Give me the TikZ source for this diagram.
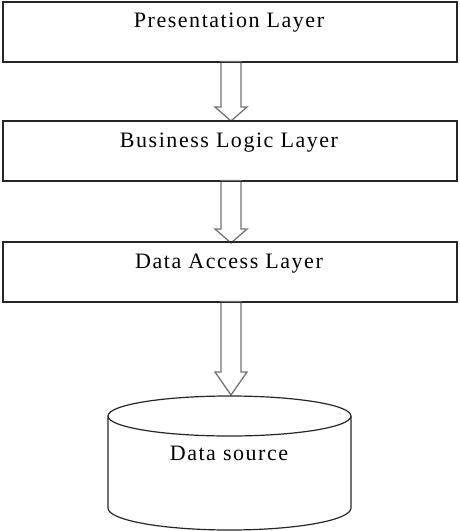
\documentclass[tikz,border=0pt]{standalone}
\usepackage{fontspec}
\setmainfont{Liberation Serif}[LetterSpace=7]
\begin{document}
\begin{tikzpicture}[x=1pt,y=-1pt,
  layerbox/.style={draw=black!85,line width=1.2pt,minimum width=454pt,minimum height=59pt,inner sep=0pt},
  lbl/.style={font=\fontsize{22}{25}\selectfont,inner sep=0pt,anchor=base},
  hollowarrow/.style={draw=black!55,line width=1.3pt,fill=white,line join=miter}]
\useasboundingbox (0,0) rectangle (459,531);
\node[layerbox] (p) at (230,32) {};
\node[layerbox] (b) at (230,151) {};
\node[layerbox] (d) at (230,272) {};
% arrows
\coordinate (t1) at (231,121);
\coordinate (t2) at (231,243);
\coordinate (t3) at (231,395);
\draw[hollowarrow] (221,61.6) -- (221,107) -- (215,107) -- (t1) -- (247,107) -- (241,107) -- (241,61.6) -- cycle;
\draw[hollowarrow] (221,180.6) -- (221,229) -- (215,229) -- (t2) -- (247,229) -- (241,229) -- (241,180.6) -- cycle;
\draw[hollowarrow] (221,301.6) -- (221,372) -- (215,372) -- (t3) -- (247,372) -- (241,372) -- (241,301.6) -- cycle;
\draw[draw=black!85,line width=1.2pt] (p.south west) rectangle (p.north east);
\draw[draw=black!85,line width=1.2pt] (b.south west) rectangle (b.north east);
\draw[draw=black!85,line width=1.2pt] (d.south west) rectangle (d.north east);
% cylinder
\coordinate (ds) at (229.5,416);
\draw[black!85,line width=1.2pt,fill=white] (108,416) -- (108,508) arc[start angle=180,end angle=0,x radius=121.5,y radius=22] -- (351,416);
\draw[black!85,line width=1.2pt,fill=white] (ds) ellipse[x radius=121.5,y radius=20];
\node[lbl] (pt) at (229,27) {Presentation Layer};
\node[lbl] (bt) at (229,147) {Business Logic Layer};
\node[lbl] (dt) at (229,268) {Data Access Layer};
\node[lbl] (dst) at (229,460) {Data source};
\end{tikzpicture}
\end{document}
